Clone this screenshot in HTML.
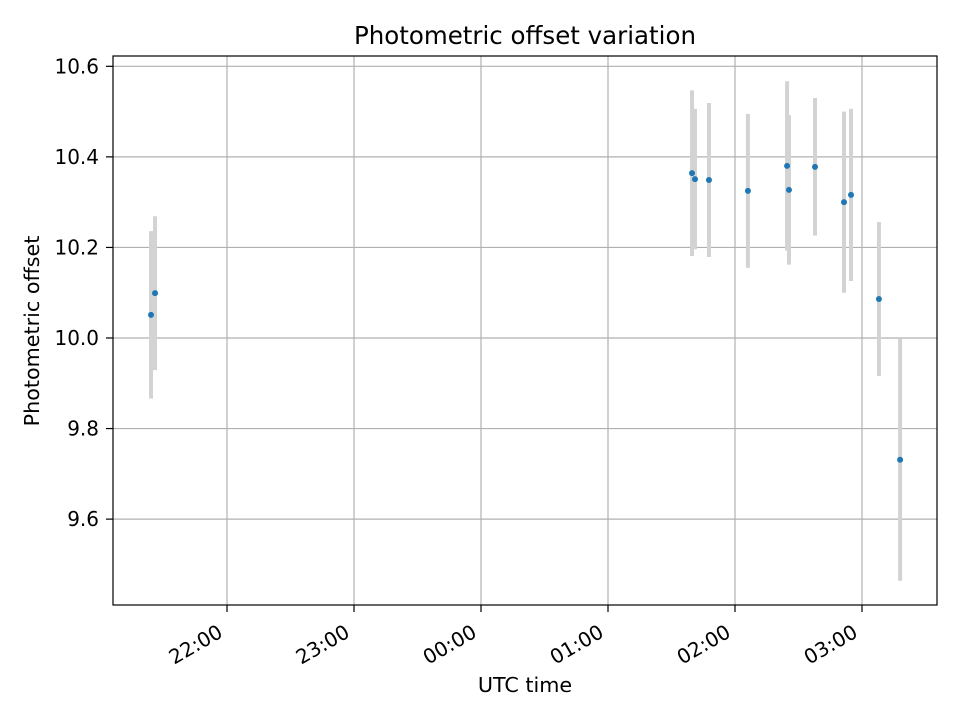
<!DOCTYPE html>
<html><head><meta charset="utf-8"><style>
body{margin:0;background:#fff;font-family:"Liberation Sans","DejaVu Sans",sans-serif}
svg text{font-family:"DejaVu Sans","Liberation Sans",sans-serif}
</style></head><body>
<svg id="chart" width="960" height="720" xmlns="http://www.w3.org/2000/svg">
<rect width="960" height="720" fill="#fff"/>
<g id="grid"></g><g id="marks"></g><g id="axes"></g>
<text x="525" y="44" text-anchor="middle" font-size="24.5" fill="#000">Photometric offset variation</text>
<text x="525" y="692" text-anchor="middle" font-size="20.7" fill="#000">UTC time</text>
<text transform="translate(39,331) rotate(-90)" text-anchor="middle" font-size="20.7" fill="#000">Photometric offset</text>
<rect x="113" y="56" width="824" height="549" fill="none" stroke="#000" stroke-width="1.2"/>
</svg>
<script>
// minutes since 21:00 UTC
const times=[24.1,26,279.7,281.1,287.7,306.1,324.6,325.5,337.8,351.5,354.8,368,378];
const offsets=[10.051,10.099,10.364,10.351,10.349,10.325,10.38,10.327,10.378,10.30,10.316,10.086,9.731];
const errors=[0.185,0.17,0.183,0.155,0.17,0.17,0.187,0.165,0.152,0.2,0.19,0.17,0.267];
const xTickMinutes=[60,120,180,240,300,360];
const xTickLabels=["22:00","23:00","00:00","01:00","02:00","03:00"];
const yTicks=[9.6,9.8,10.0,10.2,10.4,10.6];
const NS="http://www.w3.org/2000/svg";
const xs=t=>227+(t-60)*127/60;
const ys=v=>338-(v-10)*452.8;
function mk(tag,attrs,parent){const e=document.createElementNS(NS,tag);for(const k in attrs)e.setAttribute(k,attrs[k]);document.getElementById(parent).appendChild(e);return e;}
xTickMinutes.forEach((t,i)=>{
 const x=xs(t);
 const g=mk('line',{x1:x,x2:x,y1:56,y2:605,stroke:'#b0b0b0','stroke-width':1.2},'grid');
 
 
 const tk=mk('line',{x1:x,x2:x,y1:605,y2:612,stroke:'#000','stroke-width':1.2},'axes');
 
 
 const tx=mk('text',{transform:`translate(${x-3},${636}) rotate(-30)`,'text-anchor':'end','font-size':20,fill:'#000'},'axes');
 tx.textContent=xTickLabels[i];
 
 
});
yTicks.forEach(v=>{
 const y=ys(v);
 const g=mk('line',{x1:113,x2:937,y1:y,y2:y,stroke:'#b0b0b0','stroke-width':1.2},'grid');
 
 
 const tk=mk('line',{x1:106,x2:113,y1:y,y2:y,stroke:'#000','stroke-width':1.2},'axes');
 
 
 const tx=mk('text',{x:99,y:y+7,'text-anchor':'end','font-size':20,fill:'#000'},'axes');
 tx.textContent=v.toFixed(1);
 
 
});
times.forEach((t,i)=>{
 const x=xs(t);
 const eb=mk('line',{x1:x,x2:x,y1:ys(offsets[i]+errors[i]),y2:ys(offsets[i]-errors[i]),stroke:'#d3d3d3','stroke-width':4},'marks');
 
 
});
times.forEach((t,i)=>{
 const c=mk('circle',{cx:xs(t),cy:ys(offsets[i]),r:3,fill:'#1f77b4'},'marks');
 
 
});
</script>
</body></html>
